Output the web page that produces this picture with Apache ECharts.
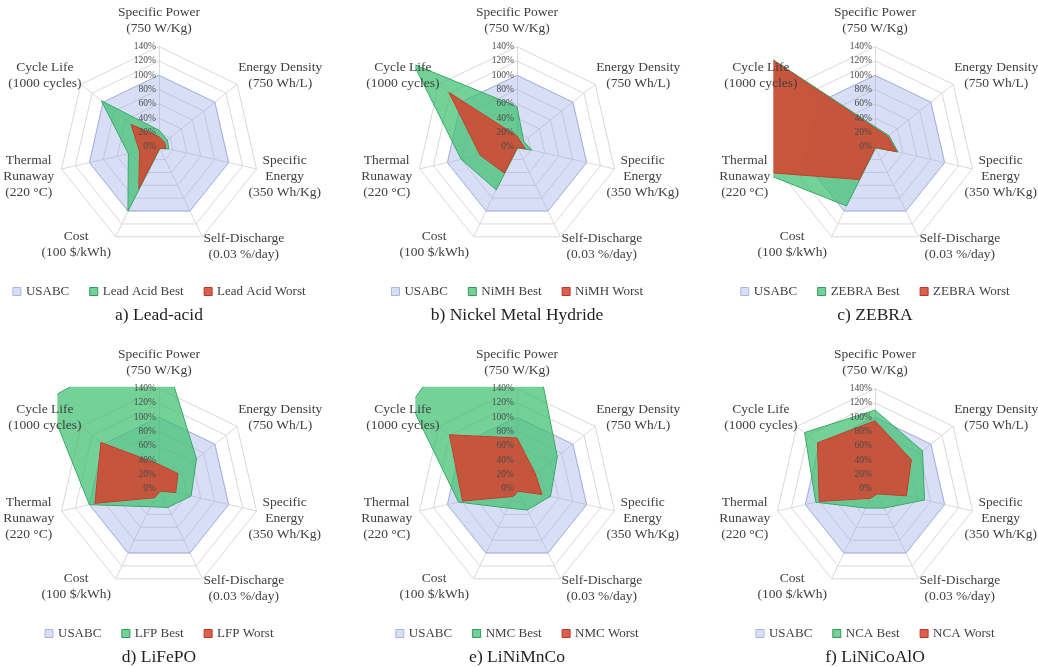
<!DOCTYPE html>
<html><head><meta charset="utf-8">
<script src="https://cdn.jsdelivr.net/npm/echarts@6/dist/echarts.min.js"></script>
<style>
html,body{margin:0;padding:0;background:#fff;width:1038px;height:667px;overflow:hidden;position:relative}
.p{position:absolute}
</style></head><body>
<script>
// ---------- DATA (natural clockwise order: SP, ED, SE, SD, Cost, TR, CL) ----------
const indicatorLines = [
  ['Specific Power', '(750 W/Kg)'],
  ['Energy Density', '(750 Wh/L)'],
  ['Specific', 'Energy', '(350 Wh/Kg)'],
  ['Self-Discharge', '(0.03 %/day)'],
  ['Cost', '(100 $/kWh)'],
  ['Thermal', 'Runaway', '(220 °C)'],
  ['Cycle Life', '(1000 cycles)']
];
const axisMin = 0;
const axisMax = 140;
const axisStep = 20;
const tickSuffix = '%';

const panelTitles = ['a) Lead-acid', 'b) Nickel Metal Hydride', 'c) ZEBRA', 'd) LiFePO', 'e) LiNiMnCo', 'f) LiNiCoAlO'];
const referenceName = 'USABC';
const bestNames  = ['Lead Acid Best', 'NiMH Best', 'ZEBRA Best', 'LFP Best', 'NMC Best', 'NCA Best'];
const worstNames = ['Lead Acid Worst', 'NiMH Worst', 'ZEBRA Worst', 'LFP Worst', 'NMC Worst', 'NCA Worst'];

const usabc          = [100, 100, 100, 100, 100, 100, 100];
const leadAcidBest   = [23, 15, 14, 3, 100, 44, 103];
const leadAcidWorst  = [14, 10, 10, 2, 65, 28, 50];
const nimhBest       = [56, 12, 21, 2, 67, 80, 185];
const nimhWorst      = [15, 8, 12, 1, 41, 53, 122];
const zebraBest      = [28, 25, 33, 2, 92, 162, 255];
const zebraWorst     = [26, 23, 31, 1, 51, 160, 250];
const lfpBest        = [212, 67, 46, 29, 28, 100, 200];
const lfpWorst       = [34, 34, 24, 4, 14, 92, 104];
const nmcBest        = [330, 72, 48, 33, 30, 84, 190];
const nmcWorst       = [71, 33, 36, 4, 12, 78, 121];
const ncaBest        = [110, 85, 71, 30, 30, 85, 126];
const ncaWorst       = [95, 65, 45, 8, 15, 80, 103];

const bestData  = [leadAcidBest, nimhBest, zebraBest, lfpBest, nmcBest, ncaBest];
const worstData = [leadAcidWorst, nimhWorst, zebraWorst, lfpWorst, nmcWorst, ncaWorst];

// ---------- LAYOUT / STYLE ----------
const FONT = '"Liberation Serif", "Times New Roman", serif';
const NAME_SIZE = 13.5, NAME_LH = 16;
const panelCX = [159.3, 517.3, 874.8];
const rowTop = [0, 342];
const rowH = [342, 325];
const CW = 358, CXL = 179, CYL = 146.7, R = 100;
const CLIP = {l: 101.7, t: 102, r: 101.7, b: 102};
// ECharts radar goes counter-clockwise: reorder natural clockwise order
const ORDER = [0, 6, 5, 4, 3, 2, 1];
const reorder = a => ORDER.map(i => a[i]);
// per-indicator name gap and vertical shift (px, + = down)
const nameGaps = [10, 0, -9, 1, 9, 7, -2];
const nameShift = [0, -9, 9.5, 8.6, 0, 6, -10];

const mctx = document.createElement('canvas').getContext('2d');
mctx.font = NAME_SIZE + 'px ' + FONT;
const rich = {};
const nameMarkup = indicatorLines.map((lines, k) => {
  const w = Math.ceil(Math.max(...lines.map(s => mctx.measureText(s).width))) + 1;
  rich['n' + k] = { width: w, align: 'center', lineHeight: NAME_LH, fontSize: NAME_SIZE, fontFamily: FONT, color: '#404040' };
  const s = Math.abs(nameShift[k]);
  rich['s' + k] = { lineHeight: 2 * s, fontSize: 1, width: w };
  let body = lines.map(l => '{n' + k + '|' + l + '}').join('\n');
  if (nameShift[k] > 0) body = '{s' + k + '| }\n' + body;
  if (nameShift[k] < 0) body = body + '\n{s' + k + '| }';
  return body;
});

const COL = {
  ref:   { fill: 'rgba(150,168,228,0.38)', line: '#a9b6e2' },
  best:  { fill: 'rgba(62,192,112,0.72)',  line: '#2f9a5a' },
  worst: { fill: 'rgba(214,64,44,0.84)',   line: '#b8392a' }
};

function makeRadar(withNames) {
  return {
    center: [CXL, CYL], radius: R, startAngle: 90, shape: 'polygon',
    splitNumber: (axisMax - axisMin) / axisStep,
    z: withNames ? 5 : 1, silent: true,
    indicator: ORDER.map(i => {
      const o = { name: withNames ? nameMarkup[i] : '', min: axisMin, max: axisMax, nameGap: nameGaps[i] };
      if (withNames && i === 0) o.axisLabel = { show: true };
      return o;
    }),
    axisName: { show: withNames, color: '#404040', fontFamily: FONT, fontSize: NAME_SIZE, rich: rich },
    axisLine: { show: !withNames, lineStyle: { color: '#d9d9d9', width: 1 } },
    splitLine: { show: !withNames, lineStyle: { color: '#d9d9d9', width: 1 } },
    splitArea: { show: false },
    axisTick: { show: false },
    axisLabel: { show: false, formatter: '{value}' + tickSuffix, color: '#4a4a4a', fontSize: 9.5, fontFamily: FONT, margin: 3 }
  };
}

for (let p = 0; p < 6; p++) {
  const row = Math.floor(p / 3), col = p % 3;
  const div = document.createElement('div');
  div.className = 'p';
  div.style.left = (panelCX[col] - CXL) + 'px';
  div.style.top = rowTop[row] + 'px';
  div.style.width = CW + 'px';
  div.style.height = rowH[row] + 'px';
  document.body.appendChild(div);
  const H = rowH[row];
  const cl = CXL - CLIP.l, ct = CYL - CLIP.t, cr = CXL + CLIP.r, cb = CYL + CLIP.b;
  const masks = [
    { x: 0, y: 0, width: CW, height: ct },
    { x: 0, y: cb, width: CW, height: H - cb },
    { x: 0, y: 0, width: cl, height: H },
    { x: cr, y: 0, width: CW - cr, height: H }
  ];
  const chart = echarts.init(div, null, { renderer: 'canvas' });
  const names = [referenceName, bestNames[p], worstNames[p]];
  const cols = [COL.ref, COL.best, COL.worst];
  const vals = [usabc, bestData[p], worstData[p]];
  chart.setOption({
    animation: false,
    backgroundColor: 'transparent',
    title: { text: panelTitles[p], left: 'center', top: 301, z: 8,
      textStyle: { fontFamily: FONT, fontSize: 17.5, fontWeight: 'normal', color: '#1f1f1f' } },
    legend: {
      left: 'center', top: 280, z: 8, selectedMode: false, icon: 'rect',
      itemWidth: 8, itemHeight: 8, itemGap: 20,
      textStyle: { fontFamily: FONT, fontSize: 13, color: '#404040' },
      data: names.map((n, k) => ({ name: n, itemStyle: { color: cols[k].fill, borderColor: cols[k].line, borderWidth: 1 } }))
    },
    radar: [makeRadar(false), makeRadar(true)],
    graphic: { elements: masks.map(m => ({ type: 'rect', shape: m, style: { fill: '#ffffff' }, z: 3, silent: true })) },
    series: [{
      type: 'radar', radarIndex: 0, symbol: 'none', silent: true, z: 2,
      data: names.map((n, k) => ({
        name: n, value: reorder(vals[k]),
        itemStyle: { color: cols[k].fill },
        lineStyle: { color: cols[k].line, width: 1 },
        areaStyle: { color: cols[k].fill, opacity: 1 }
      }))
    }]
  });
}
</script>
</body></html>
